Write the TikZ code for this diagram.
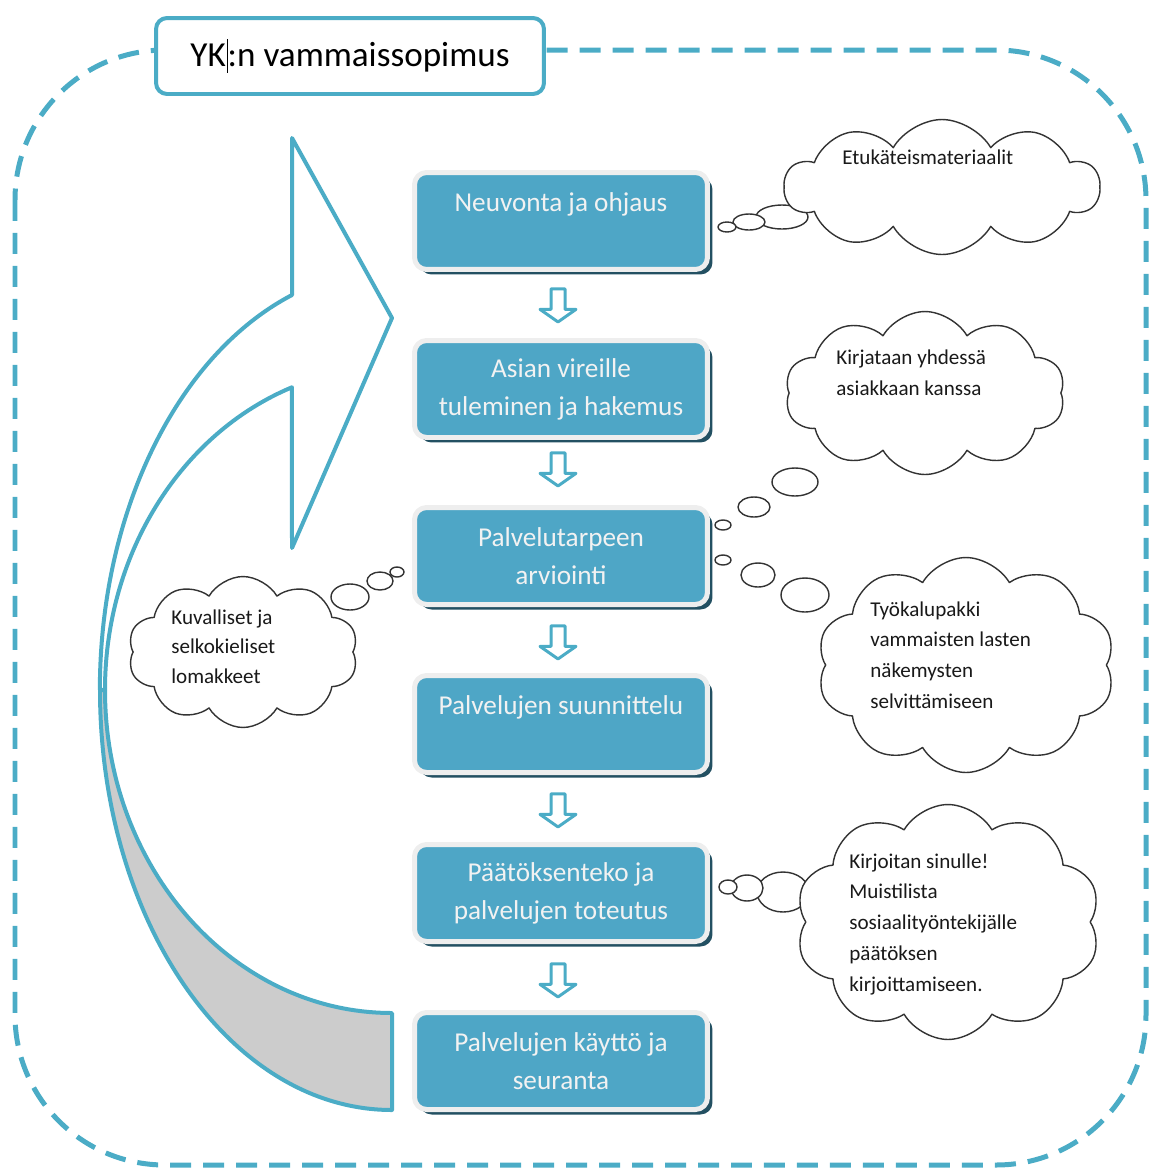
\documentclass[tikz,border=0pt]{standalone}
\usepackage{fontspec}
\setmainfont{Carlito}
\usepackage{tikz}
\usetikzlibrary{shapes.symbols,shapes.arrows,shadows}

\begin{document}
\begin{tikzpicture}
	[x=0.02cm,y=-0.02cm,line join=round,
	%Styles
	frame line/.style={draw=frameblue,line width=0.1cm,dash pattern=on 0.42cm off 0.24cm,rounded corners=3cm},
	title box/.style={rectangle,rounded corners=0.22cm,draw=frameblue,fill=white,line width=0.08cm,minimum width=7.76cm,minimum height=1.52cm,font=\fontsize{20}{24}\selectfont},
	phase box/.style={rectangle,rounded corners=0.24cm,draw=rimgray,line width=0.1cm,fill=boxblue,text=white!95!black,minimum width=5.86cm,minimum height=1.94cm,align=center,font=\fontsize{15.5}{21.5}\selectfont,general shadow={fill=shadowteal,shadow xshift=0.1cm,shadow yshift=-0.1cm}},
	down arrow/.style={single arrow,shape border rotate=270,draw=frameblue,fill=white,line width=0.06cm,minimum height=0.66cm,inner sep=0.11cm,single arrow head extend=0.22cm,single arrow tip angle=110},
	big arrow/.style={draw=frameblue,line width=0.08cm},
	thought cloud/.style={cloud,cloud puffs=10,cloud puff arc=120,cloud ignores aspect,draw=black!80,line width=0.8pt,fill=white,inner sep=0pt},
	bubble/.style={draw=black!80,line width=0.8pt,fill=white},
	thought text/.style={anchor=north west,align=left,inner sep=0pt,text=black!90,font=\fontsize{12}{17.6}\selectfont}
	]
	
	%Colors
	\definecolor{frameblue}{RGB}{75,172,198}
	\definecolor{boxblue}{RGB}{78,166,198}
	\definecolor{rimgray}{RGB}{238,238,238}
	\definecolor{shadowteal}{RGB}{35,80,98}
	\definecolor{backgray}{RGB}{204,204,204}
	
	\useasboundingbox (0,0) rectangle (1151,1171);
	
	%The frame
	\draw[frame line] (15,50) rectangle (1146,1165);
	\node[title box] (sopimus) at (350,56) {YK\kern0.5pt\rule[-0.18em]{0.6pt}{0.95em}:n vammaissopimus};
	
	%Curved arrow
	\draw[big arrow,fill=backgray] (100,690) arc[start angle=180,end angle=90,x radius=292,y radius=420]
		-- (392,1013) arc[start angle=90,end angle=180,x radius=287,y radius=323] -- cycle;
	\draw[big arrow,fill=white] (292,295) arc[start angle=250,end angle=180,x radius=292,y radius=420]
		-- (105,690) arc[start angle=180,end angle=249.6,x radius=287,y radius=323]
		-- (292,548) -- (392,318) -- (292,138) -- cycle;
	
	%Process
	\node[phase box] (neuvonta) at (561,221) {Neuvonta ja ohjaus\\~};
	\node[phase box] (vireille) at (561,389) {Asian vireille\\tuleminen ja hakemus};
	\node[phase box] (arviointi) at (561,556) {Palvelutarpeen\\arviointi};
	\node[phase box] (suunnittelu) at (561,724) {Palvelujen suunnittelu\\~};
	\node[phase box] (paatos) at (561,893) {Päätöksenteko ja\\palvelujen toteutus};
	\node[phase box] (kaytto) at (561,1061) {Palvelujen käyttö ja\\seuranta};
	
	\foreach \y [count=\i] in {303,467,640,808,978}
		\node[down arrow] (nuoli\i) at (558,\y) {};
	
	%Thought clouds
	\draw[bubble] (782,217) ellipse[x radius=26,y radius=12];
	\draw[bubble] (749,222) ellipse[x radius=16,y radius=8];
	\draw[bubble] (727,227) ellipse[x radius=9,y radius=5];
	\node[thought cloud,minimum width=6.3cm,minimum height=2.7cm] (etukateis) at (942,187) {};
	\node[thought text] (etukateis text) at (842,150) {Etukäteismateriaalit};
	
	\draw[bubble] (795,482) ellipse[x radius=23,y radius=14];
	\draw[bubble] (754,507) ellipse[x radius=16,y radius=10];
	\draw[bubble] (723,525) ellipse[x radius=8,y radius=5];
	\node[thought cloud,minimum width=5.6cm,minimum height=3.26cm] (kirjataan) at (925,393) {};
	\node[thought text,font=\fontsize{12}{18.2}\selectfont] (kirjataan text) at (836,349) {Kirjataan yhdessä\\asiakkaan kanssa};
	
	\draw[bubble] (723,560) ellipse[x radius=8,y radius=5];
	\draw[bubble] (758,575) ellipse[x radius=17,y radius=12];
	\draw[bubble] (805,595) ellipse[x radius=24,y radius=17];
	\node[thought cloud,minimum width=5.96cm,minimum height=4.3cm] (tyokalu) at (966,665) {};
	\node[thought text] (tyokalu text) at (870,601) {Työkalupakki\\vammaisten lasten\\näkemysten\\selvittämiseen};
	
	\draw[bubble] (783,892) ellipse[x radius=26,y radius=20];
	\draw[bubble] (747,888) ellipse[x radius=16,y radius=13];
	\draw[bubble] (728,887) ellipse[x radius=9,y radius=7];
	\node[thought cloud,minimum width=6.1cm,minimum height=4.7cm] (kirjoitan) at (948,922) {};
	\node[thought text] (kirjoitan text) at (849,853) {Kirjoitan sinulle!\\Muistilista\\sosiaalityöntekijälle\\päätöksen\\kirjoittamiseen.};
	
	\draw[bubble] (350,597) ellipse[x radius=19,y radius=13];
	\draw[bubble] (380,581) ellipse[x radius=13,y radius=9];
	\draw[bubble] (397,572) ellipse[x radius=7,y radius=5];
	\node[thought cloud,minimum width=4.6cm,minimum height=3.02cm] (lomakkeet) at (243,652) {};
	\node[thought text,font=\fontsize{12}{17}\selectfont] (lomakkeet text) at (171,609) {Kuvalliset ja\\selkokieliset\\lomakkeet};
\end{tikzpicture}
\end{document}
